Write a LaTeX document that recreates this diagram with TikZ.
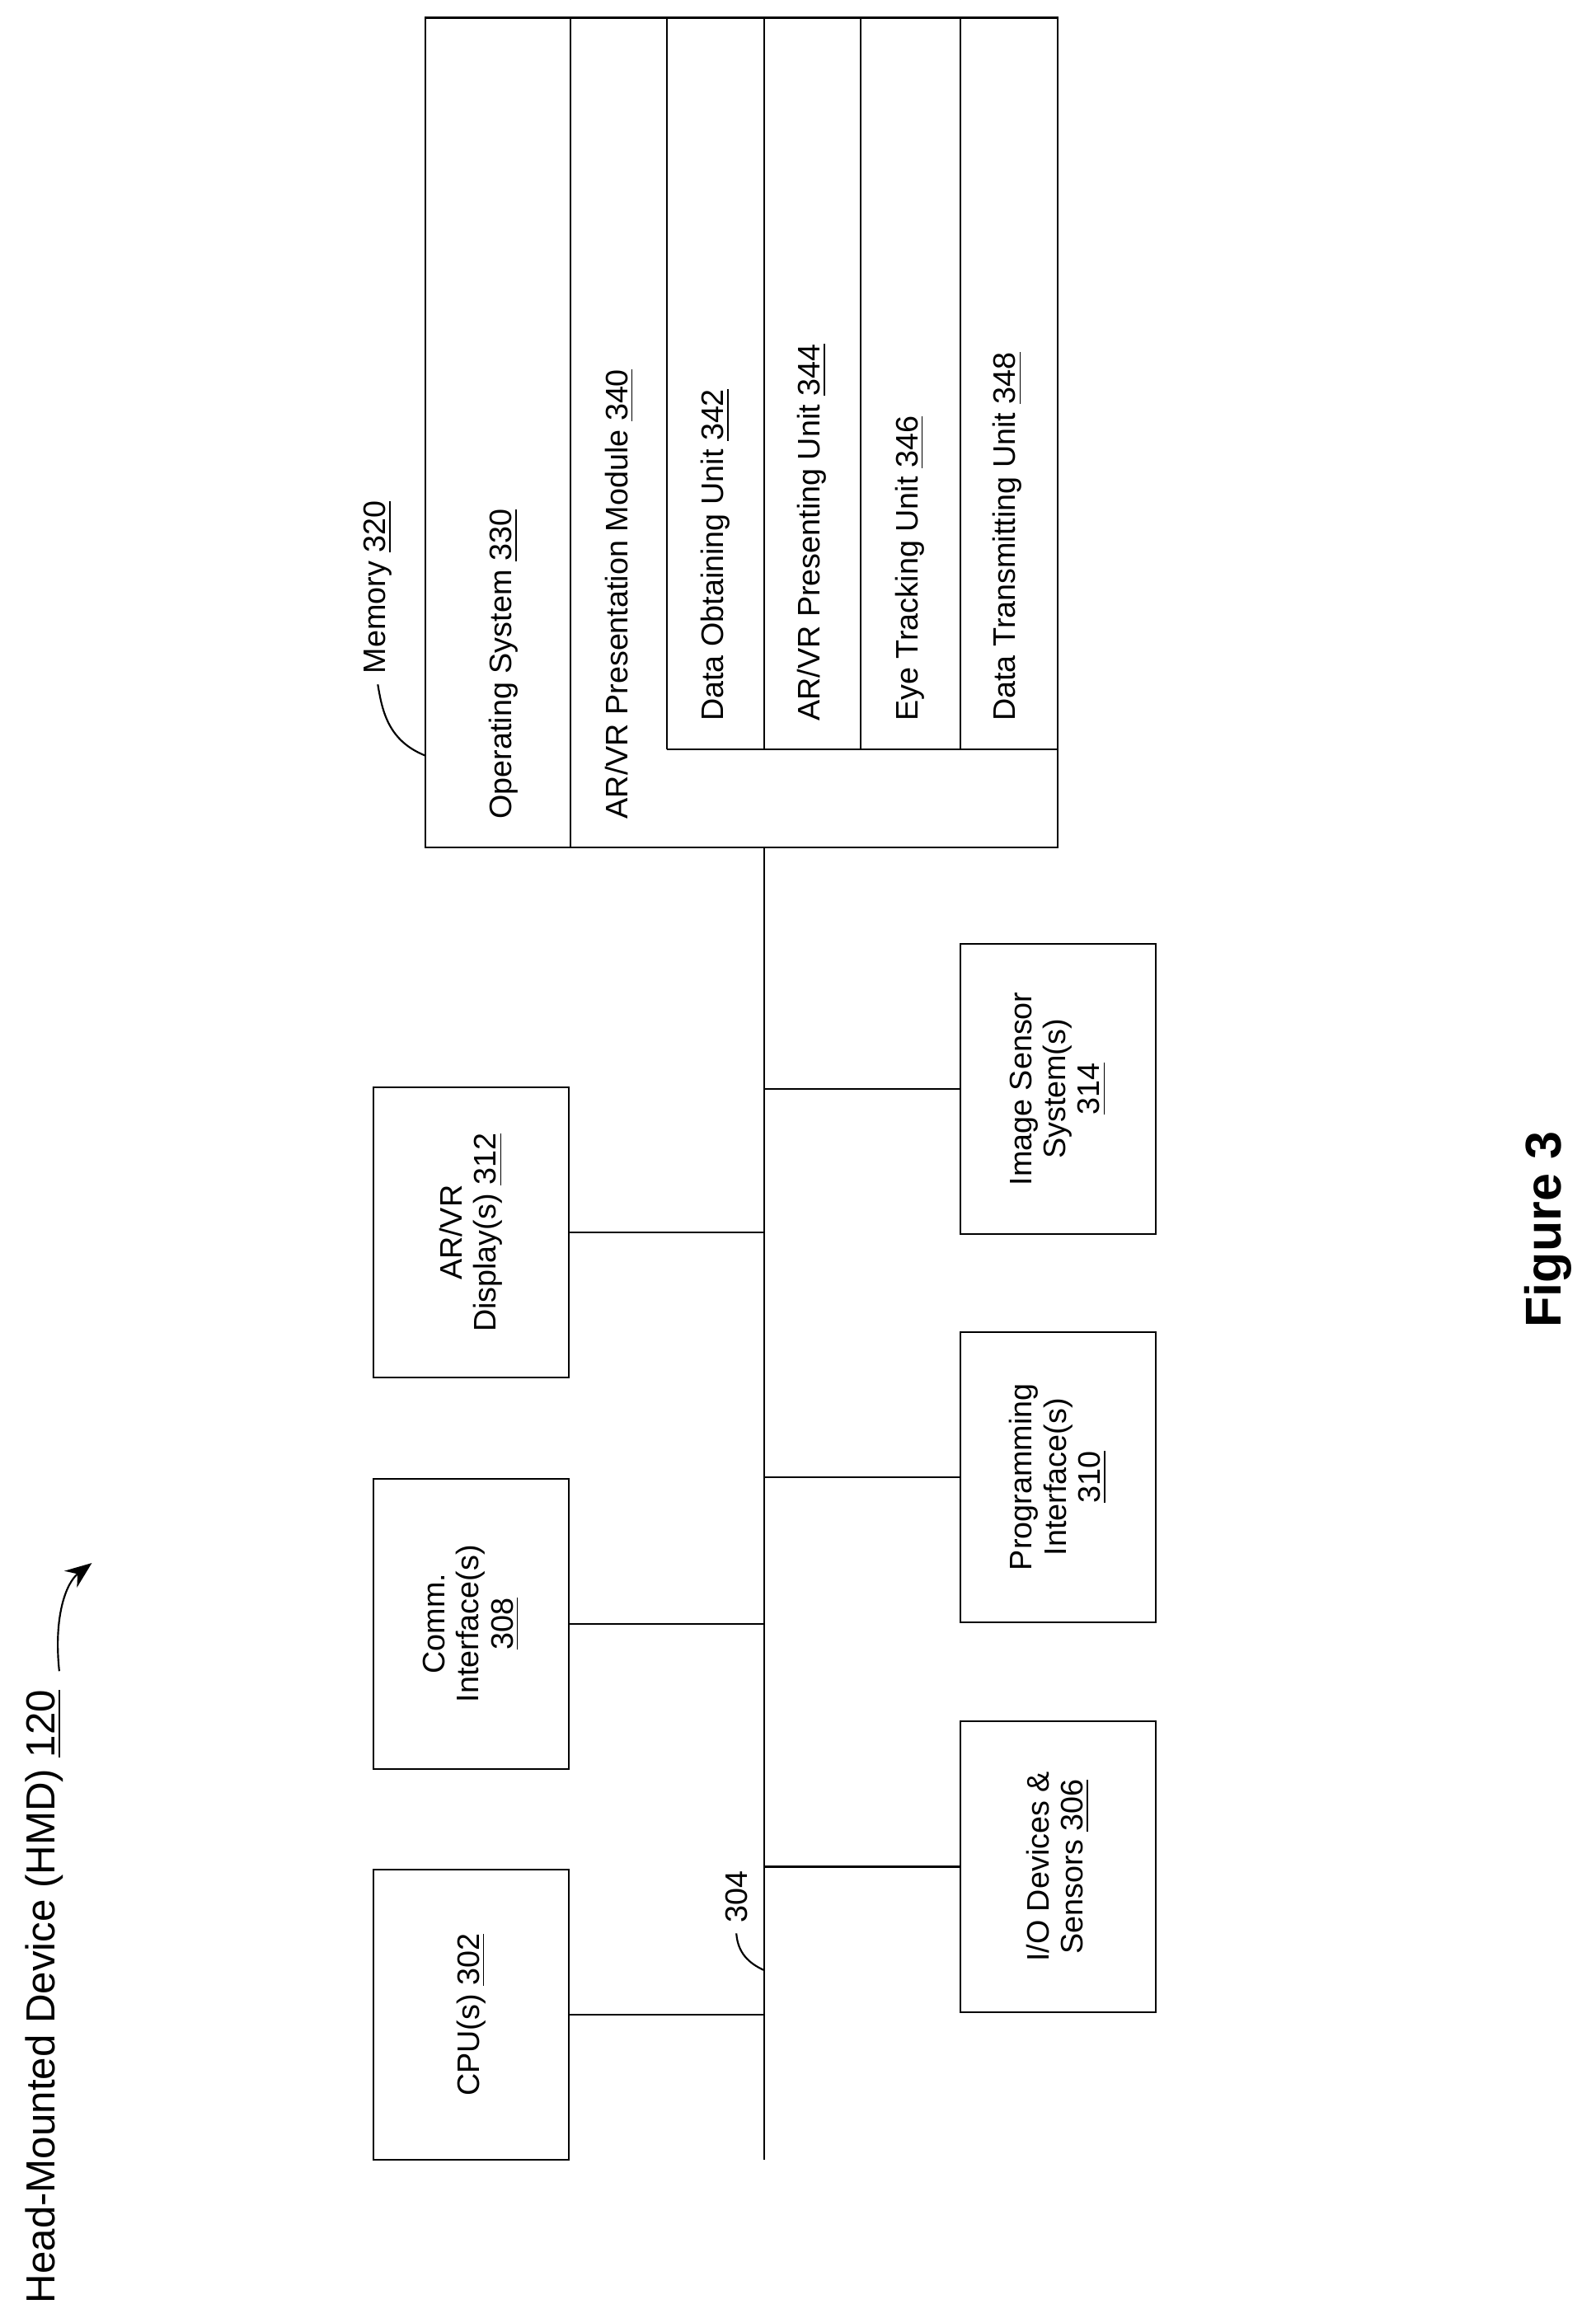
\documentclass[tikz,border=0pt]{standalone}
\usepackage{fontspec}
\setmainfont{Liberation Sans}
\usetikzlibrary{arrows.meta}
\tikzset{every picture/.style={line width=0.6pt}}
\tikzset{
  blk/.style={draw, minimum width=66pt, minimum height=98pt, inner sep=0pt},
  lbl/.style={rotate=90, align=center, font=\fontsize{10.5}{11.5}\selectfont},
  txt/.style={rotate=90, anchor=west, font=\fontsize{10.5}{11.5}\selectfont}
}
\begin{document}
\begin{tikzpicture}[x=0.5pt,y=-0.5pt]
\useasboundingbox (0,0) rectangle (1077,1568);

%Bus
\coordinate (bt) at (516,572);
\coordinate (bb) at (516,1458);
\draw (bt) -- (bb);

%Left boxes
\node[blk] (cpu) at (318,1360) {};
\node[lbl] at (cpu) {CPU(s) \underline{302}};
\node[blk] (comm) at (318,1096) {};
\node[lbl] at (comm) {Comm.\\Interface(s)\\\underline{308}};
\node[blk] (disp) at (318,832) {};
\node[lbl] at (disp) {AR/VR\\Display(s) \underline{312}};

%Right boxes
\node[blk] (io) at (714,1260) {};
\node[lbl] at (io) {I/O Devices \&\\Sensors \underline{306}};
\node[blk] (prog) at (714,997) {};
\node[lbl] at (prog) {Programming\\Interface(s)\\\underline{310}};
\node[blk] (img) at (714,735) {};
\node[lbl] at (img) {Image Sensor\\System(s)\\\underline{314}};

%Connectors
\draw (cpu.east) -- (bt |- cpu.east);
\draw (comm.east) -- (bt |- comm.east);
\draw (disp.east) -- (bt |- disp.east);
\draw (io.west) -- (bt |- io.west);
\draw (prog.west) -- (bt |- prog.west);
\draw (img.west) -- (bt |- img.west);

%Memory
\draw (287,12) rectangle (714,572);
\draw (385,12) -- (385,572);
\draw (450,506) -- (450,12);
\draw (450,506) -- (714,506);
\foreach \x in {516,581,648} \draw (\x,12) -- (\x,506);
\node[txt] (os) at (340,560) {Operating System \underline{330}};
\node[txt] (mod) at (418,560) {AR/VR Presentation Module \underline{340}};
\node[txt] (u1) at (483,494) {Data Obtaining Unit \underline{342}};
\node[txt] (u2) at (548,494) {AR/VR Presenting Unit \underline{344}};
\node[txt] (u3) at (614,494) {Eye Tracking Unit \underline{346}};
\node[txt] (u4) at (680,494) {Data Transmitting Unit \underline{348}};
\node[txt] (mem) at (255,462) {Memory \underline{320}};
\draw (287,510) .. controls (262,500) and (258,480) .. (mem.west);

%Bus label
\node[txt] (bl) at (497,1305) {304};
\draw (516,1330) .. controls (505,1325) and (498,1318) .. (bl.west);

%Title
\node[txt, font=\fontsize{13.7}{15}\selectfont] (ttl) at (30,1562) {Head-Mounted Device (HMD) \underline{120}};
\draw[-{Stealth[length=9pt,width=7pt]}] (40,1128) .. controls (36,1090) and (45,1068) .. (62,1055);
\node[rotate=90, font=\bfseries\fontsize{17}{20}\selectfont] (fig) at (1045,830) {Figure 3};
\end{tikzpicture}
\end{document}
